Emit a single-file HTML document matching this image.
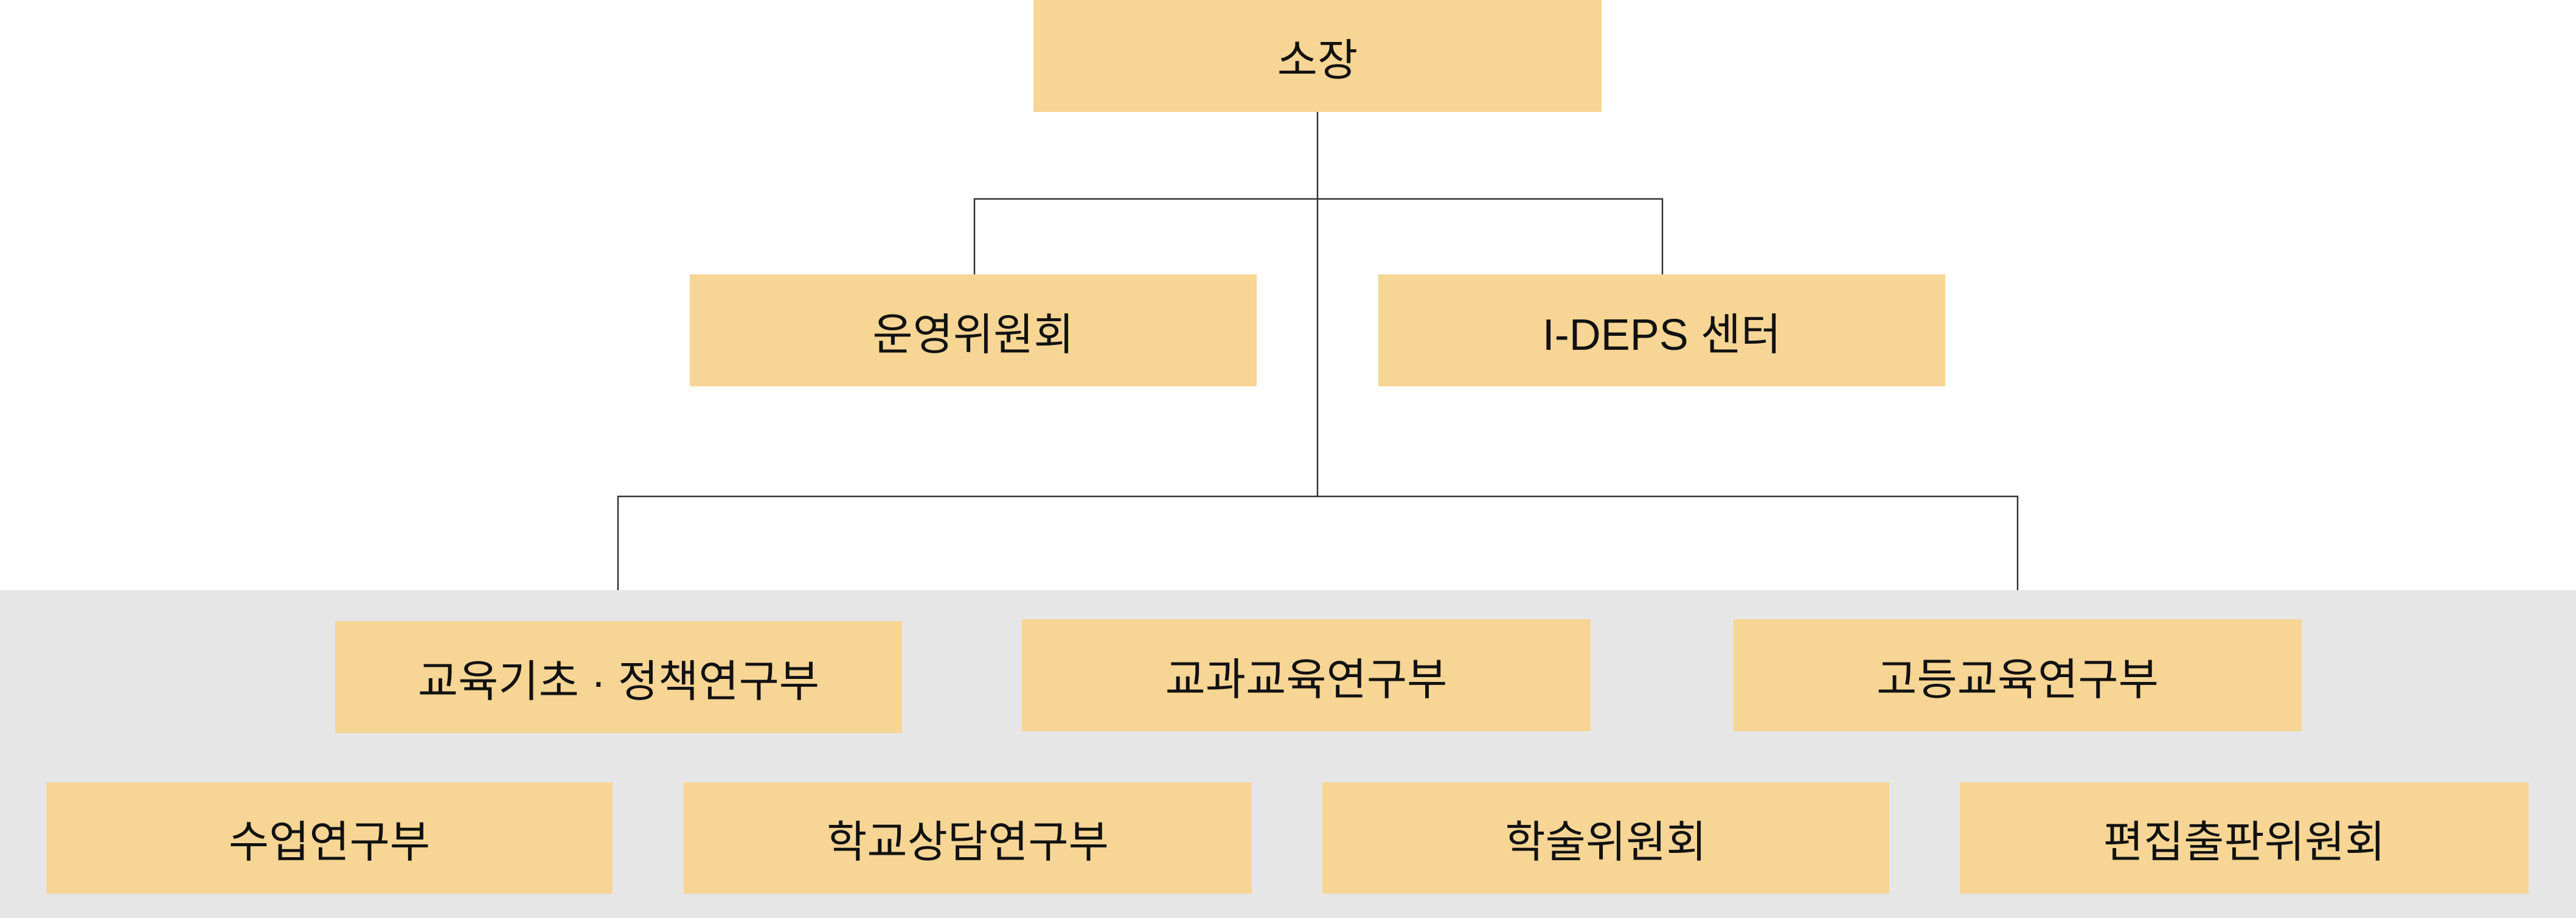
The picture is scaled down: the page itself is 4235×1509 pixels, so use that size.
<!DOCTYPE html>
<html><head><meta charset="utf-8"><style>
html,body{margin:0;padding:0;}
body{width:4235px;height:1509px;position:relative;background:#fff;overflow:hidden;font-family:"Liberation Sans","Noto Sans CJK KR",sans-serif;}
.band{position:absolute;left:0;top:970px;width:4235px;height:539px;background:#e6e6e6;}
.b{position:absolute;background:#f7d594;display:flex;align-items:center;justify-content:center;font-size:72px;color:#111;}
svg{position:absolute;left:0;top:0;}
</style></head><body>
<div class="band"></div>
<svg width="4235" height="1509">
<g stroke="#333" stroke-width="2.5" fill="none">
<line x1="2166" y1="184" x2="2166" y2="816"/>
<polyline points="1602,451 1602,327 2733,327 2733,451"/>
<polyline points="1016,970 1016,816 3317,816 3317,970"/>
</g></svg>
<div class="b" style="left:1699px;top:0;width:934px;height:184px">소장</div>
<div class="b" style="left:1134px;top:451px;width:932px;height:184px">운영위원회</div>
<div class="b" style="left:2266px;top:451px;width:932px;height:184px">I-DEPS 센터</div>
<div class="b" style="left:551px;top:1021px;width:932px;height:184px">교육기초 · 정책연구부</div>
<div class="b" style="left:1680px;top:1018px;width:935px;height:184px">교과교육연구부</div>
<div class="b" style="left:2850px;top:1018px;width:934px;height:184px">고등교육연구부</div>
<div class="b" style="left:76px;top:1286px;width:931px;height:183px">수업연구부</div>
<div class="b" style="left:1124px;top:1286px;width:934px;height:183px">학교상담연구부</div>
<div class="b" style="left:2174px;top:1286px;width:932px;height:183px">학술위원회</div>
<div class="b" style="left:3222px;top:1286px;width:935px;height:183px">편집출판위원회</div>
</body></html>
